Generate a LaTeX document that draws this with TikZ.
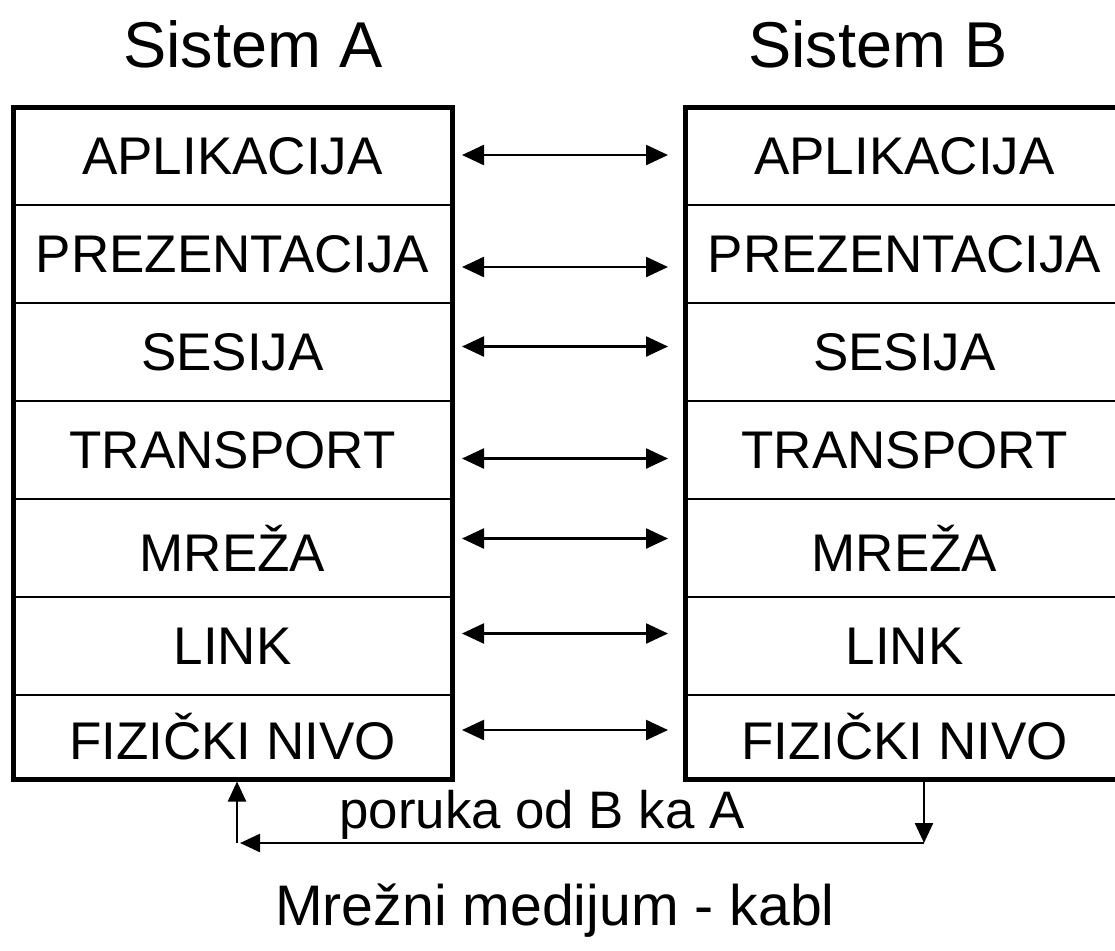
\documentclass[tikz,border=0pt]{standalone}
\usepackage{fontspec}
\setmainfont{Liberation Sans}
\usetikzlibrary{fit,positioning,arrows.meta}

\begin{document}
\begin{tikzpicture}[x=0.5pt,y=-0.5pt,node distance=0pt]
\tikzstyle{layer}=[rectangle, draw=black, line width=1pt, minimum width=219.5pt, minimum height=49pt, inner sep=0pt, outer sep=0pt, font=\fontsize{26.5}{30}\selectfont]
\tikzstyle{stack}=[rectangle, draw=black, line width=2.5pt, inner sep=0pt]
\tikzstyle{connect}=[{Triangle[length=11pt,width=10pt]}-{Triangle[length=11pt,width=10pt]}, line width=1.2pt, shorten <=5pt, shorten >=8.5pt]
\tikzstyle{msg}=[-{Triangle[length=10pt,width=9pt]}, line width=1.2pt]
\tikzstyle{title}=[anchor=base, font=\fontsize{32.4}{38}\selectfont]
\useasboundingbox (0,0) rectangle (1115,950);
\clip (0,0) rectangle (1115,950);

% system A
\node[title] (sisA) at (253,67) {Sistem A};
\node[layer] (apA) at (232.5,156) {APLIKACIJA};
\node[layer] (prA) [below=of apA] {PREZENTACIJA};
\node[layer] (seA) [below=of prA] {SESIJA};
\node[layer] (trA) [below=of seA] {TRANSPORT};
\node[layer] (mrA) [below=of trA] {MREŽA};
\node[layer] (liA) [below=of mrA] {LINK};
\node[layer, minimum height=42pt] (fiA) [below=of liA] {FIZIČKI NIVO};
\node[stack, fit=(apA)(fiA)] (sysA) {};

% system B
\node[title] (sisB) at (878,67) {Sistem B};
\node[layer] (apB) at (904.5,156) {APLIKACIJA};
\node[layer] (prB) [below=of apB] {PREZENTACIJA};
\node[layer] (seB) [below=of prB] {SESIJA};
\node[layer] (trB) [below=of seB] {TRANSPORT};
\node[layer] (mrB) [below=of trB] {MREŽA};
\node[layer] (liB) [below=of mrB] {LINK};
\node[layer, minimum height=42pt] (fiB) [below=of liB] {FIZIČKI NIVO};
\node[stack, fit=(apB)(fiB)] (sysB) {};

% peer layers
\path ([yshift=0.5pt]apA.east) edge [connect] ([yshift=0.5pt]apB.west);
\path ([yshift=-6.5pt]prA.east) edge [connect] ([yshift=-6.5pt]prB.west);
\path ([yshift=2.75pt]seA.east) edge [connect] ([yshift=2.75pt]seB.west);
\path ([yshift=-4.25pt]trA.east) edge [connect] ([yshift=-4.25pt]trB.west);
\path ([yshift=4.75pt]mrA.east) edge [connect] ([yshift=4.75pt]mrB.west);
\path ([yshift=6.25pt]liA.east) edge [connect] ([yshift=6.25pt]liB.west);
\path ([yshift=3.5pt]fiA.east) edge [connect] ([yshift=3.5pt]fiB.west);

% cable between the physical layers
\coordinate (dn) at ([xshift=9.75pt,yshift=-32pt]fiB.south);
\coordinate (up) at ([xshift=2.25pt,yshift=-32pt]fiA.south);
\path ([xshift=9.75pt,yshift=-1.25pt]fiB.south) edge [msg] (dn);
\path (dn) edge [msg] ([xshift=1.5pt]up);
\path (up) edge [msg] ([xshift=2.25pt,yshift=-1.25pt]fiA.south);
\node[anchor=base, font=\fontsize{26.4}{30}\selectfont] (poruka) at (542,828) {poruka od B ka A};
\node[anchor=base, font=\fontsize{28.6}{34}\selectfont] (medij) at (555,925) {Mrežni medijum - kabl};
\end{tikzpicture}
\end{document}
